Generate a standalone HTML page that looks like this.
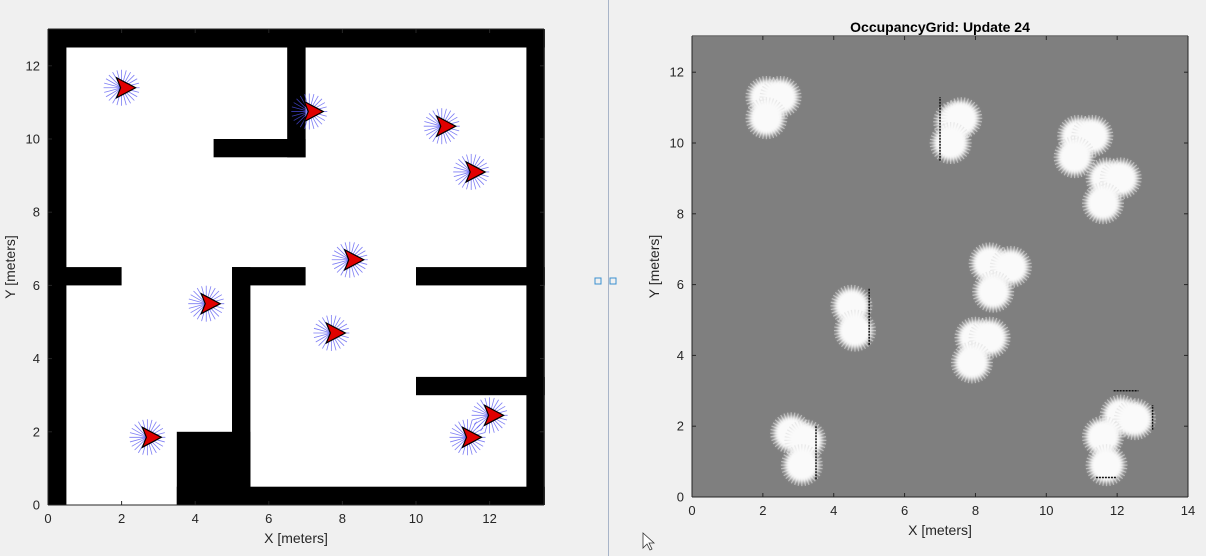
<!DOCTYPE html>
<html><head><meta charset="utf-8"><style>
html,body{margin:0;padding:0;background:#f0f0f0;width:1206px;height:556px;overflow:hidden}
svg{display:block;font-family:"Liberation Sans",sans-serif}
</style></head><body>
<svg id="root" width="1206" height="556">
<defs><filter id="blur" x="-50%" y="-50%" width="200%" height="200%"><feGaussianBlur stdDeviation="2"/></filter>
<clipPath id="clipR"><rect x="692" y="36" width="496" height="461"/></clipPath></defs>
<line x1="608.5" y1="0" x2="608.5" y2="556" stroke="#a8b4c8" stroke-width="1"/>
<rect x="595" y="278" width="6" height="6" fill="none" stroke="#3a8fd0"/>
<rect x="610" y="278" width="6" height="6" fill="none" stroke="#3a8fd0"/>
<path d="M643 533 L643 548 L647 544 L650 550 L652 549 L649 543 L654 543 Z" fill="#fff" stroke="#333" stroke-width="0.8"/>
<g id="left"></g>
<g id="right"></g>
</svg>
<script>
const NS="http://www.w3.org/2000/svg";
function mk(p,t,a){const e=document.createElementNS(NS,t);for(const k in a)e.setAttribute(k,a[k]);p.appendChild(e);return e;}
// ---- data ----
const walls=[[0,0,0.5,13],[13,0,13.5,13],[0,12.5,13.5,13],[3.5,0,13.5,0.5],[3.5,0,5.5,2],[5,0,5.5,6.5],[5,6,7,6.5],[0,6,2,6.5],[10,6,13.5,6.5],[10,3,13.5,3.5],[6.5,9.5,7,13],[4.5,9.5,7,10]];
const robotX=[2.0,7.1,10.7,11.5,8.2,4.3,7.7,2.7,11.4,12.0];
const robotY=[11.4,10.75,10.35,9.1,6.7,5.5,4.7,1.85,1.85,2.45];
const blobX=[2.1,2.5,2.1,7.4,7.6,7.3,10.9,11.3,10.8,11.7,12.1,11.6,8.4,9.0,8.5,4.5,4.6,8.0,8.4,7.9,2.8,3.2,3.1,12.1,12.5,11.6,11.7];
const blobY=[11.3,11.3,10.7,10.6,10.7,10.0,10.2,10.2,9.6,9.0,9.0,8.3,6.6,6.5,5.8,5.4,4.7,4.5,4.5,3.8,1.8,1.6,0.9,2.3,2.2,1.7,0.9];
const edges=[[7,9.5,7,11.3],[5,4.3,5,5.9],[3.5,0.5,3.5,2.0],[13,1.9,13,2.6],[11.4,0.55,12,0.55],[11.9,3,12.6,3]];
const xTicksL=[0,2,4,6,8,10,12], yTicks=[0,2,4,6,8,10,12], xTicksR=[0,2,4,6,8,10,12,14];
// ---- left axes ----
const L=document.getElementById('left');
const lx=v=>48+v*36.8, ly=v=>505-v*36.6;
mk(L,'rect',{x:48,y:ly(13),width:lx(13.5)-48,height:505-ly(13),fill:'#fff'});
walls.forEach((w,i)=>{const r=mk(L,'rect',{x:lx(w[0]),y:ly(w[3]),width:lx(w[2])-lx(w[0]),height:ly(w[1])-ly(w[3]),fill:'#000'});

});
robotX.forEach((x,i)=>{const g=mk(L,'g',{});


const cx=lx(x),cy=ly(robotY[i]);
for(let k=0;k<24;k++){const a=k*Math.PI/12;mk(g,'line',{x1:cx,y1:cy,x2:cx+18*Math.cos(a),y2:cy+18*Math.sin(a),stroke:'#5050f0','stroke-width':0.8,'stroke-opacity':0.75});}
mk(g,'path',{d:`M${cx-5} ${cy-10} L${cx+14} ${cy} L${cx-5} ${cy+10} L${cx-1} ${cy} Z`,fill:'#e00000',stroke:'#000','stroke-width':1.2});});
function axes(G,x0,x1,y0,y1,fx,fy,xt,yt,box){
 mk(G,'line',{x1:x0,y1:y0,x2:x1,y2:y0,stroke:'#262626'});
 mk(G,'line',{x1:x0,y1:y0,x2:x0,y2:y1,stroke:'#262626'});
 if(box){mk(G,'line',{x1:x0,y1:y1,x2:x1,y2:y1,stroke:'#262626'});mk(G,'line',{x1:x1,y1:y0,x2:x1,y2:y1,stroke:'#262626'});}
 xt.forEach(v=>{const x=fx(v);mk(G,'line',{x1:x,y1:y0,x2:x,y2:y0-4,stroke:'#262626'});mk(G,'line',{x1:x,y1:y1,x2:x,y2:y1+4,stroke:'#262626'});
  const t=mk(G,'text',{x:x,y:y0+18,'font-size':13,fill:'#262626','text-anchor':'middle'});t.textContent=v;});
 yt.forEach(v=>{const y=fy(v);mk(G,'line',{x1:x0,y1:y,x2:x0+4,y2:y,stroke:'#262626'});mk(G,'line',{x1:x1,y1:y,x2:x1-4,y2:y,stroke:'#262626'});
  const t=mk(G,'text',{x:x0-8,y:y+4.5,'font-size':13,fill:'#262626','text-anchor':'end'});t.textContent=v;});
 const xl=mk(G,'text',{x:(x0+x1)/2,y:y0+38,'font-size':14,fill:'#262626','text-anchor':'middle'});xl.textContent='X [meters]';
 
 
 const yl=mk(G,'text',{x:0,y:0,'font-size':14,fill:'#262626','text-anchor':'middle',transform:`translate(${x0-33},${(y0+y1)/2}) rotate(-90)`});yl.textContent='Y [meters]';
 
 
}
axes(L,48,544,505,29,lx,ly,xTicksL,yTicks,true);
// ---- right axes ----
const R=document.getElementById('right');
const rx=v=>692+v*35.43, ry=v=>497-v*35.4;
mk(R,'rect',{x:692,y:ry(13),width:rx(14)-692,height:497-ry(13),fill:'#7f7f7f'});
const bg=mk(R,'g',{'clip-path':'url(#clipR)'});
blobX.forEach((x,i)=>{const g=mk(bg,'g',{});


const cx=rx(x),cy=ry(blobY[i]);
for(let k=0;k<36;k++){const a=k*Math.PI/18;mk(g,'line',{x1:cx,y1:cy,x2:cx+21*Math.cos(a),y2:cy+21*Math.sin(a),stroke:'#dcdcdc','stroke-width':1.3,'stroke-opacity':0.6});}
mk(g,'circle',{cx:cx,cy:cy,r:17,fill:'#fafafa',filter:'url(#blur)'});});
edges.forEach((e,i)=>{const l=mk(bg,'line',{x1:rx(e[0]),y1:ry(e[1]),x2:rx(e[2]),y2:ry(e[3]),stroke:'#111','stroke-width':1.5,'stroke-dasharray':'2 1'});

});
axes(R,692,1188,497,36,rx,ry,xTicksR,yTicks,true);
const tt=mk(R,'text',{x:940,y:32,'font-size':14,'font-weight':'bold',fill:'#000','text-anchor':'middle'});tt.textContent='OccupancyGrid: Update 24';


</script>
</body></html>
